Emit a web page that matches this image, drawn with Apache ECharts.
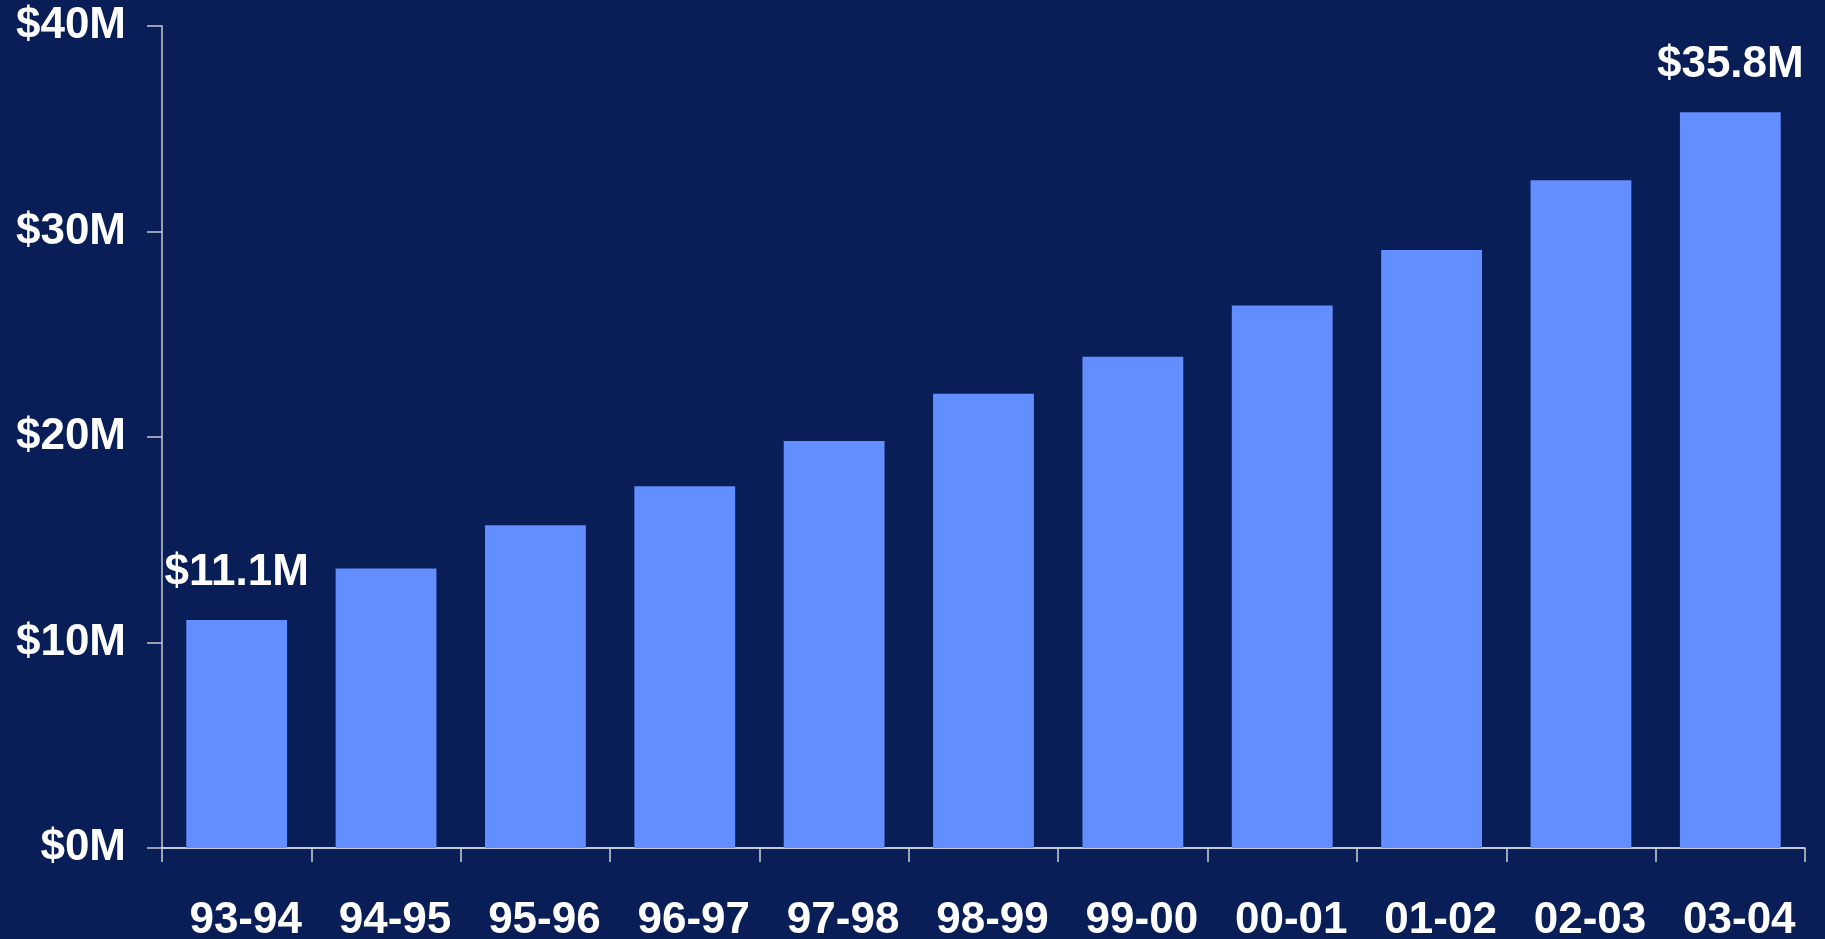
<!DOCTYPE html>
<html>
<head>
<meta charset="utf-8">
<script src="https://cdn.jsdelivr.net/npm/echarts@6/dist/echarts.min.js"></script>
<style>
html,body{margin:0;padding:0;background:#091D57;}
#chart{width:1825px;height:939px;}
</style>
</head>
<body>
<div id="chart"></div>
<script>
const categories = ['93-94','94-95','95-96','96-97','97-98','98-99','99-00','00-01','01-02','02-03','03-04'];
const values = [11.1, 13.6, 15.7, 17.6, 19.8, 22.1, 23.9, 26.4, 29.1, 32.5, 35.8];
const labelledIndices = [0, 10];
const yTicks = [0, 10, 20, 30, 40];

const chart = echarts.init(document.getElementById('chart'), null, {renderer:'canvas'});
const font = '"Liberation Sans", Arial, sans-serif';
const data = values.map((v, i) => ({
  value: v,
  label: {
    show: labelledIndices.includes(i),
    position: 'top',
    distance: 25,
    formatter: p => '$' + p.value.toFixed(1) + 'M',
    color: '#ffffff',
    fontSize: 44,
    fontWeight: 'bold',
    fontFamily: font
  }
}));
chart.setOption({
  backgroundColor: '#091D57',
  animation: false,
  grid: {left: 162, right: 20, top: 26, bottom: 91, containLabel: false, outerBoundsMode: 'none'},
  xAxis: {
    type: 'category',
    data: categories,
    axisLine: {lineStyle: {color: '#ffffff', width: 1.5}},
    axisTick: {show: true, length: 14, lineStyle: {color: '#d0d0d8', width: 1.5}},
    axisLabel: {color: '#ffffff', fontSize: 44, fontWeight: 'bold', fontFamily: font, margin: 51, interval: 0,
      padding: [0, 0, 0, 18]},
    splitLine: {show: false}
  },
  yAxis: {
    type: 'value',
    min: yTicks[0],
    max: yTicks[yTicks.length - 1],
    interval: 10,
    axisLine: {show: true, lineStyle: {color: '#c8c8d0', width: 1.5}},
    axisTick: {show: true, length: 15, lineStyle: {color: '#c8c8d0', width: 1.5}},
    axisLabel: {color: '#ffffff', fontSize: 44, fontWeight: 'bold', fontFamily: font, margin: 36,
      formatter: v => '$' + v + 'M'},
    splitLine: {show: false}
  },
  series: [{
    type: 'bar',
    data: data,
    barWidth: '67.5%',
    itemStyle: {color: '#628EFF'}
  }]
});
</script>
</body>
</html>
